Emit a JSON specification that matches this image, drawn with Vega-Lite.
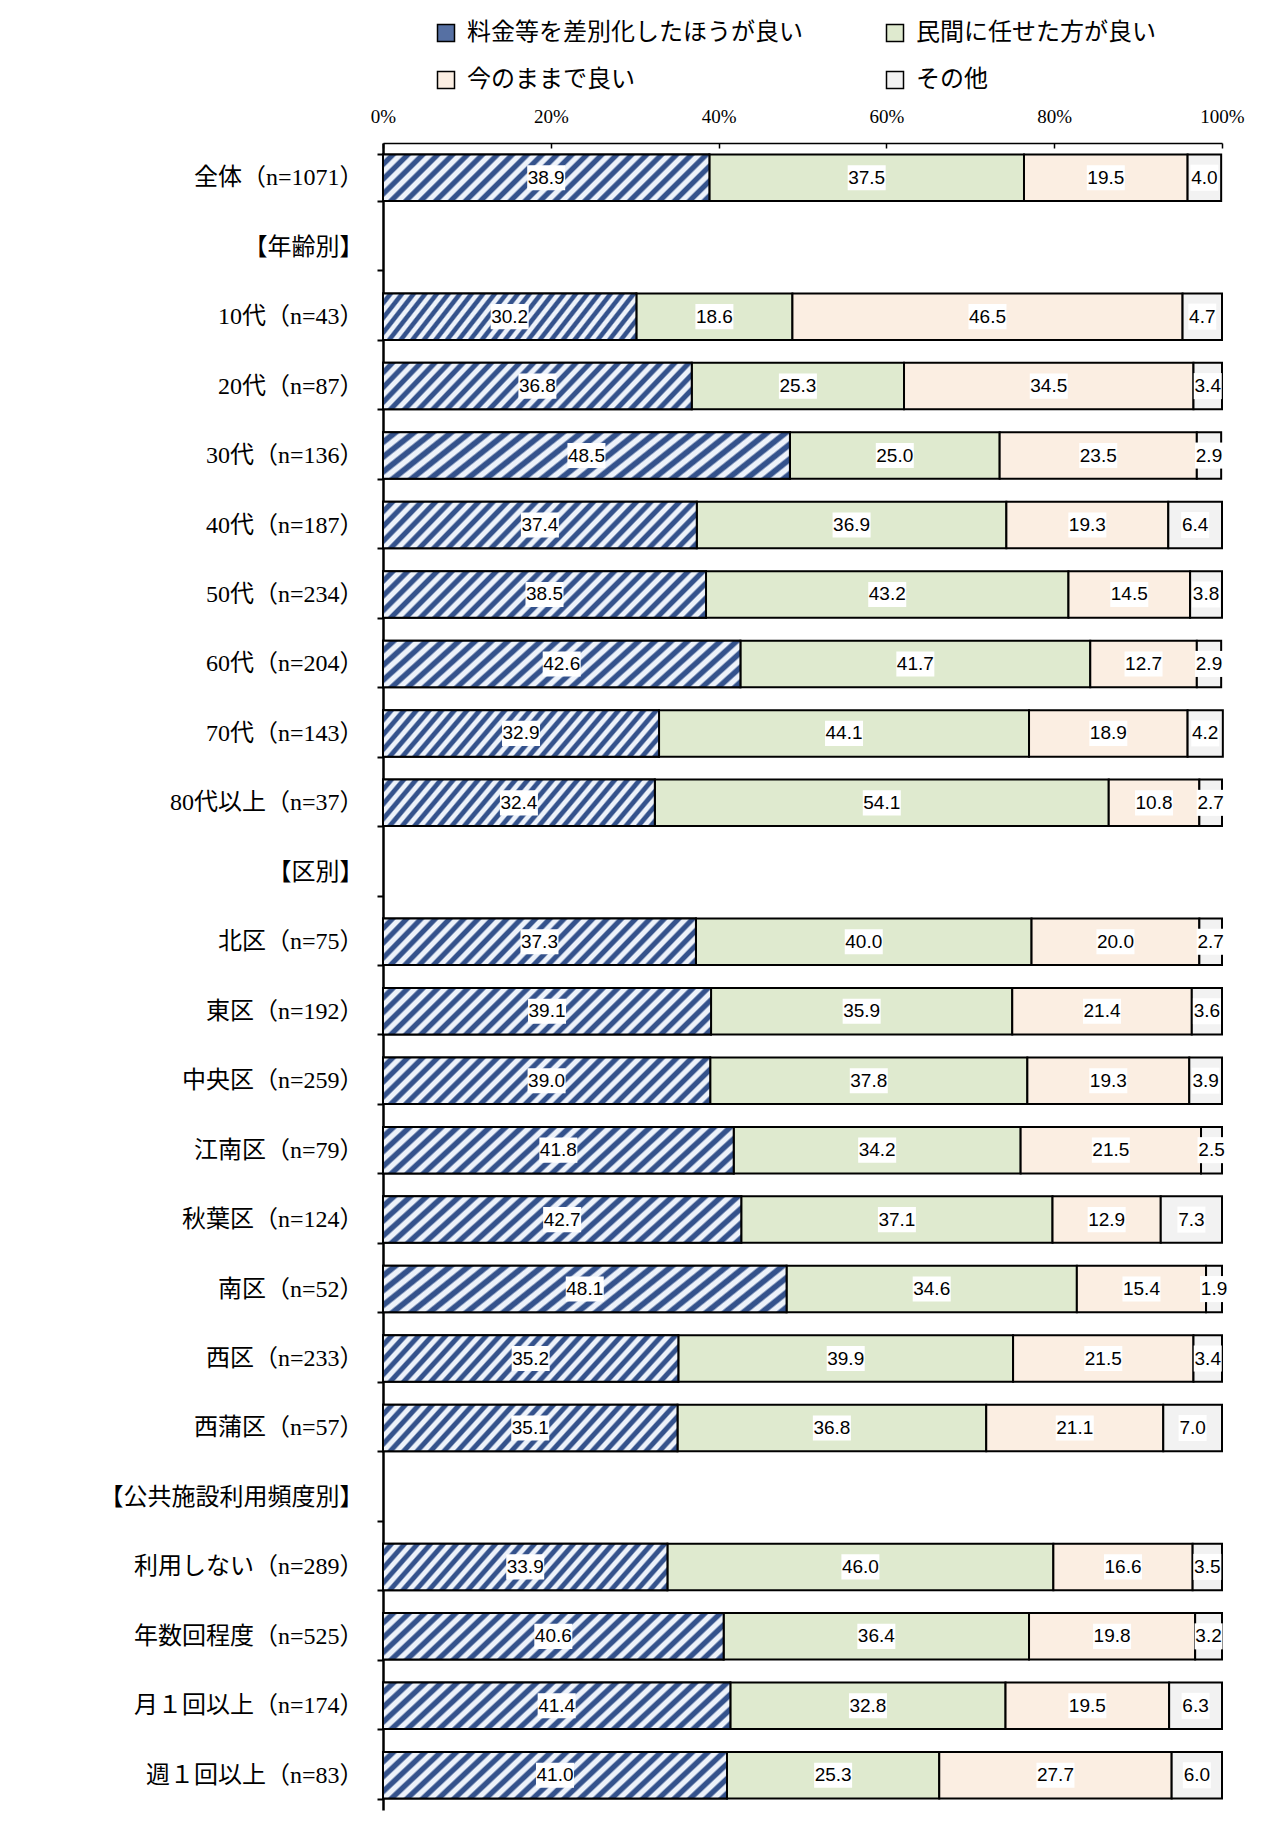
{
  "$schema": "https://vega.github.io/schema/vega-lite/v6.json",
  "width": 839,
  "height": 1667,
  "autosize": {"type": "none"},
  "padding": {"left": 383, "top": 143, "right": 54, "bottom": 17},
  "background": "white",
  "config": {"view": {"stroke": null}},
  "resolve": {"axis": {"x": "independent"}},
  "datasets": {
    "cats": [
      {"c": "料金等を差別化したほうが良い", "i": 1},
      {"c": "民間に任せた方が良い", "i": 2},
      {"c": "今のままで良い", "i": 3},
      {"c": "その他", "i": 4}
    ],
    "rows": [
      {"g": "全体（n=1071）", "c": "料金等を差別化したほうが良い", "v": 38.9},
      {"g": "全体（n=1071）", "c": "民間に任せた方が良い", "v": 37.5},
      {"g": "全体（n=1071）", "c": "今のままで良い", "v": 19.5},
      {"g": "全体（n=1071）", "c": "その他", "v": 4.0},
      {"g": "10代（n=43）", "c": "料金等を差別化したほうが良い", "v": 30.2},
      {"g": "10代（n=43）", "c": "民間に任せた方が良い", "v": 18.6},
      {"g": "10代（n=43）", "c": "今のままで良い", "v": 46.5},
      {"g": "10代（n=43）", "c": "その他", "v": 4.7},
      {"g": "20代（n=87）", "c": "料金等を差別化したほうが良い", "v": 36.8},
      {"g": "20代（n=87）", "c": "民間に任せた方が良い", "v": 25.3},
      {"g": "20代（n=87）", "c": "今のままで良い", "v": 34.5},
      {"g": "20代（n=87）", "c": "その他", "v": 3.4},
      {"g": "30代（n=136）", "c": "料金等を差別化したほうが良い", "v": 48.5},
      {"g": "30代（n=136）", "c": "民間に任せた方が良い", "v": 25.0},
      {"g": "30代（n=136）", "c": "今のままで良い", "v": 23.5},
      {"g": "30代（n=136）", "c": "その他", "v": 2.9},
      {"g": "40代（n=187）", "c": "料金等を差別化したほうが良い", "v": 37.4},
      {"g": "40代（n=187）", "c": "民間に任せた方が良い", "v": 36.9},
      {"g": "40代（n=187）", "c": "今のままで良い", "v": 19.3},
      {"g": "40代（n=187）", "c": "その他", "v": 6.4},
      {"g": "50代（n=234）", "c": "料金等を差別化したほうが良い", "v": 38.5},
      {"g": "50代（n=234）", "c": "民間に任せた方が良い", "v": 43.2},
      {"g": "50代（n=234）", "c": "今のままで良い", "v": 14.5},
      {"g": "50代（n=234）", "c": "その他", "v": 3.8},
      {"g": "60代（n=204）", "c": "料金等を差別化したほうが良い", "v": 42.6},
      {"g": "60代（n=204）", "c": "民間に任せた方が良い", "v": 41.7},
      {"g": "60代（n=204）", "c": "今のままで良い", "v": 12.7},
      {"g": "60代（n=204）", "c": "その他", "v": 2.9},
      {"g": "70代（n=143）", "c": "料金等を差別化したほうが良い", "v": 32.9},
      {"g": "70代（n=143）", "c": "民間に任せた方が良い", "v": 44.1},
      {"g": "70代（n=143）", "c": "今のままで良い", "v": 18.9},
      {"g": "70代（n=143）", "c": "その他", "v": 4.2},
      {"g": "80代以上（n=37）", "c": "料金等を差別化したほうが良い", "v": 32.4},
      {"g": "80代以上（n=37）", "c": "民間に任せた方が良い", "v": 54.1},
      {"g": "80代以上（n=37）", "c": "今のままで良い", "v": 10.8},
      {"g": "80代以上（n=37）", "c": "その他", "v": 2.7},
      {"g": "北区（n=75）", "c": "料金等を差別化したほうが良い", "v": 37.3},
      {"g": "北区（n=75）", "c": "民間に任せた方が良い", "v": 40.0},
      {"g": "北区（n=75）", "c": "今のままで良い", "v": 20.0},
      {"g": "北区（n=75）", "c": "その他", "v": 2.7},
      {"g": "東区（n=192）", "c": "料金等を差別化したほうが良い", "v": 39.1},
      {"g": "東区（n=192）", "c": "民間に任せた方が良い", "v": 35.9},
      {"g": "東区（n=192）", "c": "今のままで良い", "v": 21.4},
      {"g": "東区（n=192）", "c": "その他", "v": 3.6},
      {"g": "中央区（n=259）", "c": "料金等を差別化したほうが良い", "v": 39.0},
      {"g": "中央区（n=259）", "c": "民間に任せた方が良い", "v": 37.8},
      {"g": "中央区（n=259）", "c": "今のままで良い", "v": 19.3},
      {"g": "中央区（n=259）", "c": "その他", "v": 3.9},
      {"g": "江南区（n=79）", "c": "料金等を差別化したほうが良い", "v": 41.8},
      {"g": "江南区（n=79）", "c": "民間に任せた方が良い", "v": 34.2},
      {"g": "江南区（n=79）", "c": "今のままで良い", "v": 21.5},
      {"g": "江南区（n=79）", "c": "その他", "v": 2.5},
      {"g": "秋葉区（n=124）", "c": "料金等を差別化したほうが良い", "v": 42.7},
      {"g": "秋葉区（n=124）", "c": "民間に任せた方が良い", "v": 37.1},
      {"g": "秋葉区（n=124）", "c": "今のままで良い", "v": 12.9},
      {"g": "秋葉区（n=124）", "c": "その他", "v": 7.3},
      {"g": "南区（n=52）", "c": "料金等を差別化したほうが良い", "v": 48.1},
      {"g": "南区（n=52）", "c": "民間に任せた方が良い", "v": 34.6},
      {"g": "南区（n=52）", "c": "今のままで良い", "v": 15.4},
      {"g": "南区（n=52）", "c": "その他", "v": 1.9},
      {"g": "西区（n=233）", "c": "料金等を差別化したほうが良い", "v": 35.2},
      {"g": "西区（n=233）", "c": "民間に任せた方が良い", "v": 39.9},
      {"g": "西区（n=233）", "c": "今のままで良い", "v": 21.5},
      {"g": "西区（n=233）", "c": "その他", "v": 3.4},
      {"g": "西蒲区（n=57）", "c": "料金等を差別化したほうが良い", "v": 35.1},
      {"g": "西蒲区（n=57）", "c": "民間に任せた方が良い", "v": 36.8},
      {"g": "西蒲区（n=57）", "c": "今のままで良い", "v": 21.1},
      {"g": "西蒲区（n=57）", "c": "その他", "v": 7.0},
      {"g": "利用しない（n=289）", "c": "料金等を差別化したほうが良い", "v": 33.9},
      {"g": "利用しない（n=289）", "c": "民間に任せた方が良い", "v": 46.0},
      {"g": "利用しない（n=289）", "c": "今のままで良い", "v": 16.6},
      {"g": "利用しない（n=289）", "c": "その他", "v": 3.5},
      {"g": "年数回程度（n=525）", "c": "料金等を差別化したほうが良い", "v": 40.6},
      {"g": "年数回程度（n=525）", "c": "民間に任せた方が良い", "v": 36.4},
      {"g": "年数回程度（n=525）", "c": "今のままで良い", "v": 19.8},
      {"g": "年数回程度（n=525）", "c": "その他", "v": 3.2},
      {"g": "月１回以上（n=174）", "c": "料金等を差別化したほうが良い", "v": 41.4},
      {"g": "月１回以上（n=174）", "c": "民間に任せた方が良い", "v": 32.8},
      {"g": "月１回以上（n=174）", "c": "今のままで良い", "v": 19.5},
      {"g": "月１回以上（n=174）", "c": "その他", "v": 6.3},
      {"g": "週１回以上（n=83）", "c": "料金等を差別化したほうが良い", "v": 41.0},
      {"g": "週１回以上（n=83）", "c": "民間に任せた方が良い", "v": 25.3},
      {"g": "週１回以上（n=83）", "c": "今のままで良い", "v": 27.7},
      {"g": "週１回以上（n=83）", "c": "その他", "v": 6.0}
    ]
  },
  "data": {"name": "rows"},
  "transform": [
    {"lookup": "c", "from": {"data": {"name": "cats"}, "key": "c", "fields": ["i"]}},
    {"stack": "v", "groupby": ["g"], "sort": [{"field": "i", "order": "ascending"}], "as": ["x0", "x1"]}
  ],
  "encoding": {
    "y": {
      "field": "g",
      "type": "nominal",
      "title": null,
      "scale": {
        "domain": ["全体（n=1071）", "【年齢別】", "10代（n=43）", "20代（n=87）", "30代（n=136）", "40代（n=187）", "50代（n=234）", "60代（n=204）", "70代（n=143）", "80代以上（n=37）", "【区別】", "北区（n=75）", "東区（n=192）", "中央区（n=259）", "江南区（n=79）", "秋葉区（n=124）", "南区（n=52）", "西区（n=233）", "西蒲区（n=57）", "【公共施設利用頻度別】", "利用しない（n=289）", "年数回程度（n=525）", "月１回以上（n=174）", "週１回以上（n=83）"],
        "paddingInner": 0.33,
        "paddingOuter": 0.165
      },
      "axis": {
        "tickBand": "extent",
        "tickSize": 6,
        "tickWidth": 2,
        "tickColor": "#000",
        "domainColor": "#000",
        "domainWidth": 2.5,
        "labelFont": "Liberation Serif, Noto Sans CJK JP",
        "labelFontSize": 24,
        "labelColor": "#000",
        "labelPadding": 14,
        "labelLimit": 400
      }
    }
  },
  "layer": [
    {
      "mark": {"type": "bar", "stroke": "#000", "strokeWidth": 2, "opacity": 1},
      "encoding": {
        "x": {
          "field": "x0",
          "type": "quantitative",
          "title": null,
          "scale": {"domain": [0, 100], "nice": false},
          "axis": {
            "orient": "top",
            "values": [0, 20, 40, 60, 80, 100],
            "labelExpr": "datum.value + '%'",
            "tickSize": -5,
            "tickColor": "#000",
            "tickWidth": 1.5,
            "domainColor": "#000",
            "domainWidth": 1.5,
            "labelFont": "Liberation Serif",
            "labelFontSize": 19,
            "labelColor": "#000",
            "labelPadding": 22,
            "labelFlush": false,
            "grid": false,
            "title": null
          }
        },
        "x2": {"field": "x1"},
        "color": {
          "field": "c",
          "type": "nominal",
          "scale": {
            "domain": ["料金等を差別化したほうが良い", "民間に任せた方が良い", "今のままで良い", "その他"],
            "range": ["#5670a3", "#dfeacf", "#fbeee2", "#f2f2f2"]
          },
          "legend": {
            "title": null,
            "orient": "none",
            "legendX": 51,
            "legendY": -122,
            "columns": 2,
            "direction": "horizontal",
            "columnPadding": 80,
            "rowPadding": 23,
            "padding": 0,
            "symbolType": "square",
            "symbolSize": 289,
            "symbolStrokeColor": "#000",
            "symbolStrokeWidth": 1.5,
            "symbolOpacity": 1,
            "labelFont": "Noto Sans CJK JP",
            "labelFontSize": 24,
            "labelColor": "#000",
            "labelOffset": 9,
            "labelLimit": 500
          }
        }
      }
    },
    {
      "transform": [{"filter": "datum.i === 1"}],
      "mark": {
        "type": "bar",
        "stroke": "#000",
        "strokeWidth": 2,
        "fill": {
          "gradient": "linear",
          "x1": 0, "y1": 0, "x2": 1.12, "y2": 0.161,
          "stops": [
            {"offset": 0, "color": "#edf2fa"}, {"offset": 0.014, "color": "#edf2fa"}, {"offset": 0.02, "color": "#34528c"}, {"offset": 0.034, "color": "#34528c"},
            {"offset": 0.04, "color": "#edf2fa"}, {"offset": 0.054, "color": "#edf2fa"}, {"offset": 0.06, "color": "#34528c"}, {"offset": 0.074, "color": "#34528c"},
            {"offset": 0.08, "color": "#edf2fa"}, {"offset": 0.094, "color": "#edf2fa"}, {"offset": 0.1, "color": "#34528c"}, {"offset": 0.114, "color": "#34528c"},
            {"offset": 0.12, "color": "#edf2fa"}, {"offset": 0.134, "color": "#edf2fa"}, {"offset": 0.14, "color": "#34528c"}, {"offset": 0.154, "color": "#34528c"},
            {"offset": 0.16, "color": "#edf2fa"}, {"offset": 0.174, "color": "#edf2fa"}, {"offset": 0.18, "color": "#34528c"}, {"offset": 0.194, "color": "#34528c"},
            {"offset": 0.2, "color": "#edf2fa"}, {"offset": 0.214, "color": "#edf2fa"}, {"offset": 0.22, "color": "#34528c"}, {"offset": 0.234, "color": "#34528c"},
            {"offset": 0.24, "color": "#edf2fa"}, {"offset": 0.254, "color": "#edf2fa"}, {"offset": 0.26, "color": "#34528c"}, {"offset": 0.274, "color": "#34528c"},
            {"offset": 0.28, "color": "#edf2fa"}, {"offset": 0.294, "color": "#edf2fa"}, {"offset": 0.3, "color": "#34528c"}, {"offset": 0.314, "color": "#34528c"},
            {"offset": 0.32, "color": "#edf2fa"}, {"offset": 0.334, "color": "#edf2fa"}, {"offset": 0.34, "color": "#34528c"}, {"offset": 0.354, "color": "#34528c"},
            {"offset": 0.36, "color": "#edf2fa"}, {"offset": 0.374, "color": "#edf2fa"}, {"offset": 0.38, "color": "#34528c"}, {"offset": 0.394, "color": "#34528c"},
            {"offset": 0.4, "color": "#edf2fa"}, {"offset": 0.414, "color": "#edf2fa"}, {"offset": 0.42, "color": "#34528c"}, {"offset": 0.434, "color": "#34528c"},
            {"offset": 0.44, "color": "#edf2fa"}, {"offset": 0.454, "color": "#edf2fa"}, {"offset": 0.46, "color": "#34528c"}, {"offset": 0.474, "color": "#34528c"},
            {"offset": 0.48, "color": "#edf2fa"}, {"offset": 0.494, "color": "#edf2fa"}, {"offset": 0.5, "color": "#34528c"}, {"offset": 0.514, "color": "#34528c"},
            {"offset": 0.52, "color": "#edf2fa"}, {"offset": 0.534, "color": "#edf2fa"}, {"offset": 0.54, "color": "#34528c"}, {"offset": 0.554, "color": "#34528c"},
            {"offset": 0.56, "color": "#edf2fa"}, {"offset": 0.574, "color": "#edf2fa"}, {"offset": 0.58, "color": "#34528c"}, {"offset": 0.594, "color": "#34528c"},
            {"offset": 0.6, "color": "#edf2fa"}, {"offset": 0.614, "color": "#edf2fa"}, {"offset": 0.62, "color": "#34528c"}, {"offset": 0.634, "color": "#34528c"},
            {"offset": 0.64, "color": "#edf2fa"}, {"offset": 0.654, "color": "#edf2fa"}, {"offset": 0.66, "color": "#34528c"}, {"offset": 0.674, "color": "#34528c"},
            {"offset": 0.68, "color": "#edf2fa"}, {"offset": 0.694, "color": "#edf2fa"}, {"offset": 0.7, "color": "#34528c"}, {"offset": 0.714, "color": "#34528c"},
            {"offset": 0.72, "color": "#edf2fa"}, {"offset": 0.734, "color": "#edf2fa"}, {"offset": 0.74, "color": "#34528c"}, {"offset": 0.754, "color": "#34528c"},
            {"offset": 0.76, "color": "#edf2fa"}, {"offset": 0.774, "color": "#edf2fa"}, {"offset": 0.78, "color": "#34528c"}, {"offset": 0.794, "color": "#34528c"},
            {"offset": 0.8, "color": "#edf2fa"}, {"offset": 0.814, "color": "#edf2fa"}, {"offset": 0.82, "color": "#34528c"}, {"offset": 0.834, "color": "#34528c"},
            {"offset": 0.84, "color": "#edf2fa"}, {"offset": 0.854, "color": "#edf2fa"}, {"offset": 0.86, "color": "#34528c"}, {"offset": 0.874, "color": "#34528c"},
            {"offset": 0.88, "color": "#edf2fa"}, {"offset": 0.894, "color": "#edf2fa"}, {"offset": 0.9, "color": "#34528c"}, {"offset": 0.914, "color": "#34528c"},
            {"offset": 0.92, "color": "#edf2fa"}, {"offset": 0.934, "color": "#edf2fa"}, {"offset": 0.94, "color": "#34528c"}, {"offset": 0.954, "color": "#34528c"},
            {"offset": 0.96, "color": "#edf2fa"}, {"offset": 0.974, "color": "#edf2fa"}, {"offset": 0.98, "color": "#34528c"}, {"offset": 0.994, "color": "#34528c"},
            {"offset": 1, "color": "#edf2fa"}
          ]
        }
      },
      "encoding": {
        "x": {"field": "x0", "type": "quantitative", "title": null, "scale": {"domain": [0, 100], "nice": false}, "axis": null},
        "x2": {"field": "x1"}
      }
    },
    {
      "transform": [
        {"fold": ["x0", "x1"], "as": ["edge", "pos"]},
        {"aggregate": [{"op": "mean", "field": "pos", "as": "mid"}], "groupby": ["g", "c", "v"]}
      ],
      "encoding": {
        "x": {"field": "mid", "type": "quantitative", "title": null, "scale": {"domain": [0, 100], "nice": false}, "axis": null}
      },
      "layer": [
        {
          "transform": [{"filter": "datum.v >= 10"}],
          "mark": {"type": "point", "shape": "M-1,-0.66H1V0.66H-1Z", "size": 1444, "filled": true, "fill": "#ffffff", "opacity": 1, "strokeWidth": 0}
        },
        {
          "transform": [{"filter": "datum.v < 10"}],
          "mark": {"type": "point", "shape": "M-1,-0.93H1V0.93H-1Z", "size": 784, "filled": true, "fill": "#ffffff", "opacity": 1, "strokeWidth": 0}
        },
        {
          "mark": {"type": "text", "font": "Liberation Sans", "fontSize": 19, "fill": "#000", "align": "center", "baseline": "middle"},
          "encoding": {"text": {"field": "v", "type": "quantitative", "format": ".1f"}}
        }
      ]
    }
  ]
}
